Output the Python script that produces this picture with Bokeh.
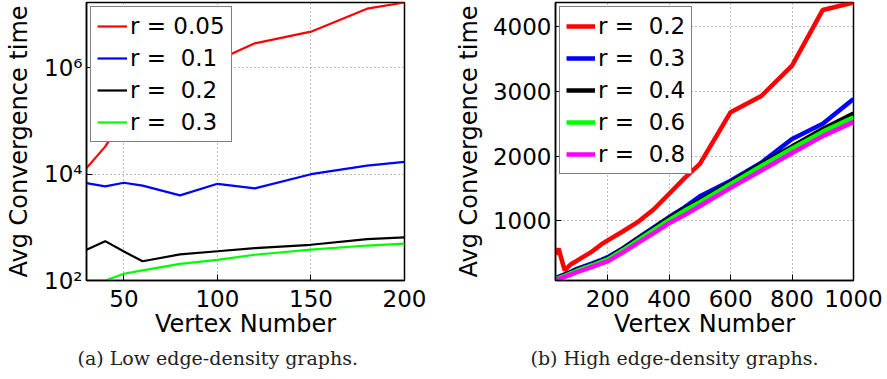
from bokeh.plotting import figure
from bokeh.models import Range1d, FixedTicker, Legend, LegendItem, Title
from bokeh.layouts import row
from bokeh.embed import file_html
from bokeh.resources import INLINE

# ---- data (a) low edge-density ----
x_a = [30, 40, 50, 60, 80, 100, 120, 150, 180, 200]
a_r005 = [1.3e4, 3.3e4, 1.2e5, 3.0e5, 8.0e5, 1.4e6, 2.9e6, 4.8e6, 1.3e7, 1.7e7]
a_r01 = [6800, 5900, 6900, 6100, 4000, 6600, 5400, 1.0e4, 1.45e4, 1.7e4]
a_r02 = [380, 550, 350, 230, 310, 355, 405, 470, 600, 650]
a_r03 = [100, 100, 134, 155, 205, 245, 305, 380, 455, 495]
a_labels = ["r = 0.05", "r = \u00a00.1", "r = \u00a00.2", "r = \u00a00.3"]
a_colors = ["#FF0000", "#0000FF", "#000000", "#00FF00"]
a_xticks = [50, 100, 150, 200]
a_yticks = [100, 10000, 1000000]
a_ytick_labels = ["10\u00b2", "10\u2074", "10\u2076"]
a_caption = "(a) Low edge-density graphs."

# ---- data (b) high edge-density ----
x_b = [30, 40, 60, 80, 100, 150, 180, 200, 250, 300, 350, 400, 450, 500, 600, 700, 800, 900, 1000]
b_r02 = [480, 570, 235, 330, 385, 530, 640, 700, 840, 990, 1180, 1420, 1660, 1880, 2680, 2930, 3400, 4260, 4375]
b_r03 = [115, 135, 175, 215, 260, 345, 400, 440, 580, 740, 900, 1060, 1210, 1380, 1620, 1900, 2265, 2500, 2885]
b_r04 = [105, 125, 165, 205, 245, 330, 385, 420, 570, 725, 885, 1045, 1190, 1320, 1600, 1880, 2150, 2420, 2660]
b_r06 = [95, 115, 150, 190, 230, 315, 370, 405, 550, 705, 860, 1015, 1160, 1290, 1570, 1850, 2120, 2380, 2600]
b_r08 = [79, 100, 135, 170, 210, 290, 345, 375, 515, 665, 810, 965, 1090, 1230, 1510, 1780, 2050, 2310, 2530]
b_labels = ["r = \u00a00.2", "r = \u00a00.3", "r = \u00a00.4", "r = \u00a00.6", "r = \u00a00.8"]
b_colors = ["#FF0000", "#0000FF", "#000000", "#00FF00", "#FF00FF"]
b_xticks = [200, 400, 600, 800, 1000]
b_yticks = [1000, 2000, 3000, 4000]
b_caption = "(b) High edge-density graphs."

SANS = "DejaVu Sans"
SERIF = "DejaVu Serif"
H = 379


def style(p, xticks, yticks, ylab_standoff):
    p.background_fill_color = "white"
    p.border_fill_color = "white"
    p.outline_line_color = "black"
    p.outline_line_width = 1.5
    for ax in (p.xaxis[0], p.yaxis[0]):
        ax.major_label_text_font = SANS
        ax.major_label_text_font_size = "23px"
        ax.major_label_text_color = "black"
        ax.axis_label_text_font = SANS
        ax.axis_label_text_font_size = "24px"
        ax.axis_label_text_font_style = "normal"
        ax.axis_label_text_color = "black"
        ax.major_tick_in = 6
        ax.major_tick_out = 0
        ax.minor_tick_line_color = None
        ax.major_tick_line_color = "black"
        ax.axis_line_color = "black"
        ax.axis_line_width = 1.5
    p.xaxis[0].ticker = FixedTicker(ticks=xticks)
    p.yaxis[0].ticker = FixedTicker(ticks=yticks)
    p.xaxis[0].major_label_standoff = 9
    p.xaxis[0].axis_label_standoff = 0
    p.yaxis[0].major_label_standoff = 4
    p.yaxis[0].axis_label_standoff = ylab_standoff
    p.xaxis[0].axis_label = "Vertex Number"
    p.yaxis[0].axis_label = "Avg Convergence time"
    for g in (p.xgrid[0], p.ygrid[0]):
        g.grid_line_color = "#777777"
        g.grid_line_dash = "1 3"
        g.grid_line_width = 1
    p.xgrid[0].ticker = FixedTicker(ticks=xticks)
    p.ygrid[0].ticker = FixedTicker(ticks=yticks)


def make_legend(items, glyph_w):
    lg = Legend(items=items, location="top_left")
    lg.label_text_font = SANS
    lg.label_text_font_size = "23px"
    lg.label_text_color = "black"
    lg.glyph_width = glyph_w
    lg.glyph_height = 26
    lg.label_height = 26
    lg.label_standoff = 3
    lg.spacing = 6
    lg.padding = 6
    lg.margin = 4
    lg.border_line_color = "black"
    lg.border_line_width = 1.2
    lg.background_fill_color = "white"
    lg.background_fill_alpha = 1
    return lg


def caption(p, text, dx):
    p.add_layout(Title(text=text, align="left", offset=dx, standoff=8,
                       text_font=SERIF, text_font_size="19px", text_font_style="normal",
                       text_color="#222222"), "below")


# ---- figure (a) ----
all_a = a_r005 + a_r01 + a_r02 + a_r03
p1 = figure(width=445, height=H, y_axis_type="log",
            x_range=Range1d(min(x_a), max(x_a)),
            y_range=Range1d(min(all_a), max(all_a)),
            output_backend="svg", toolbar_location=None,
            min_border_left=86, min_border_right=41,
            min_border_top=2, min_border_bottom=99)
style(p1, a_xticks, a_yticks, 8)
p1.yaxis[0].major_label_overrides = {t: s for t, s in zip(a_yticks, a_ytick_labels)}
items = []
for ys, c, lab in zip([a_r005, a_r01, a_r02, a_r03], a_colors, a_labels):
    r = p1.line(x_a, ys, line_color=c, line_width=2.2)
    items.append(LegendItem(label=lab, renderers=[r]))
p1.add_layout(make_legend(items, 30))
caption(p1, a_caption, -9)

# ---- figure (b) ----
all_b = b_r02 + b_r03 + b_r04 + b_r06 + b_r08
p2 = figure(width=442, height=H,
            x_range=Range1d(min(x_b), max(x_b)),
            y_range=Range1d(min(all_b), max(all_b)),
            output_backend="svg", toolbar_location=None,
            min_border_left=110, min_border_right=34,
            min_border_top=2, min_border_bottom=99)
style(p2, b_xticks, b_yticks, 7)
items = []
for ys, c, lab in zip([b_r02, b_r03, b_r04, b_r06, b_r08], b_colors, b_labels):
    r = p2.line(x_b, ys, line_color=c, line_width=4.5)
    items.append(LegendItem(label=lab, renderers=[r]))
p2.add_layout(make_legend(items, 29))
caption(p2, b_caption, -25)

layout = row(p1, p2)
open("out.html", "w").write(file_html(layout, INLINE))
